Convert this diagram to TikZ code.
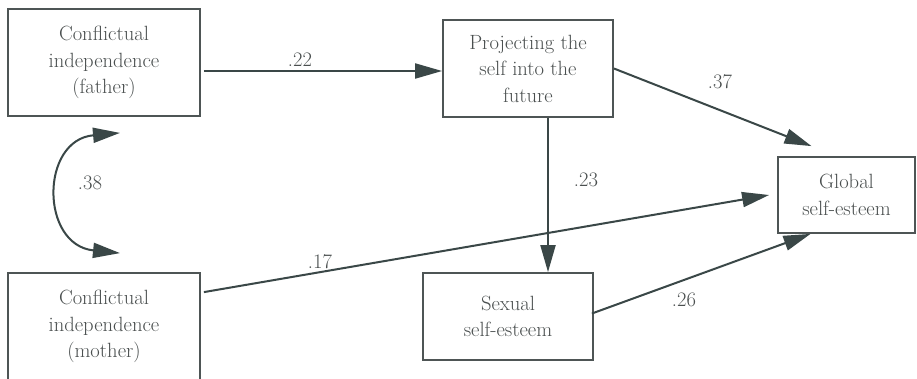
\documentclass[tikz,border=0pt]{standalone}
\usetikzlibrary{arrows.meta,calc}
\definecolor{txt}{HTML}{4A4F4F}
\definecolor{ln}{HTML}{3A4747}
\definecolor{bx}{HTML}{4E5555}
\tikzset{
  vbox/.style={draw=bx, line width=1.8pt, align=center, text=txt, inner sep=0pt,
    font=\fontsize{20.6}{26.5}\selectfont},
  conn/.style={draw=ln, line width=2pt, -{Triangle[length=27pt,width=15pt]}},
  plainconn/.style={draw=ln, line width=2pt},
  coef/.style={text=txt, font=\fontsize{20.6}{26}\selectfont, inner sep=0pt}
}
\begin{document}
\begin{tikzpicture}[x=1pt,y=-1pt]
\fill[white] (0,0) rectangle (917,378);
\useasboundingbox (0,0) rectangle (917,378);
\node[vbox, minimum width=192pt, minimum height=107pt] (father) at (104,62.5)
  {Conflictual\\independence\\(father)};
\node[vbox, minimum width=192pt, minimum height=107pt] (mother) at (104,326.5)
  {Conflictual\\independence\\(mother)};
\node[vbox, minimum width=170pt, minimum height=97pt] (proj) at (528,68.5)
  {Projecting the\\self into the\\future};
\node[vbox, minimum width=137pt, minimum height=76pt] (global) at (846.5,195)
  {Global\\self-esteem};
\node[vbox, minimum width=170pt, minimum height=87pt] (sexual) at (508,316.5)
  {Sexual\\self-esteem};
% connectors
\coordinate (a1) at ($(father.east)+(3,8.5)$);
\draw[conn] (a1) -- (a1 -| proj.west);
\draw[conn] (proj.east) -- ($(global.north)+(-35,-10)$);
\draw[conn] ($(proj.south)+(20,0)$) -- ($(sexual.north)+(40,0)$);
\draw[conn] ($(sexual.east)+(-2,-3)$) -- ($(global.south)+(-36,0)$);
\draw[conn] ($(mother.north east)+(3,20)$) -- ($(global.west)+(-8,0)$);
\coordinate (c1) at ($(father.south)+(16,16)$);
\coordinate (c2) at ($(mother.north)+(16,-19)$);
\draw[plainconn, {Triangle[length=27pt,width=15pt]}-{Triangle[length=27pt,width=15pt]}]
  (c1) .. controls (40,140) and (40,245) .. (c2);
% coefficients
\node[coef] (l22) at (300,60) {.22};
\node[coef] (l37) at (720,82) {.37};
\node[coef] (l23) at (586,180) {.23};
\node[coef] (l17) at (320,262) {.17};
\node[coef] (l26) at (684,300) {.26};
\node[coef] (l38) at (90,183) {.38};
\end{tikzpicture}
\end{document}
